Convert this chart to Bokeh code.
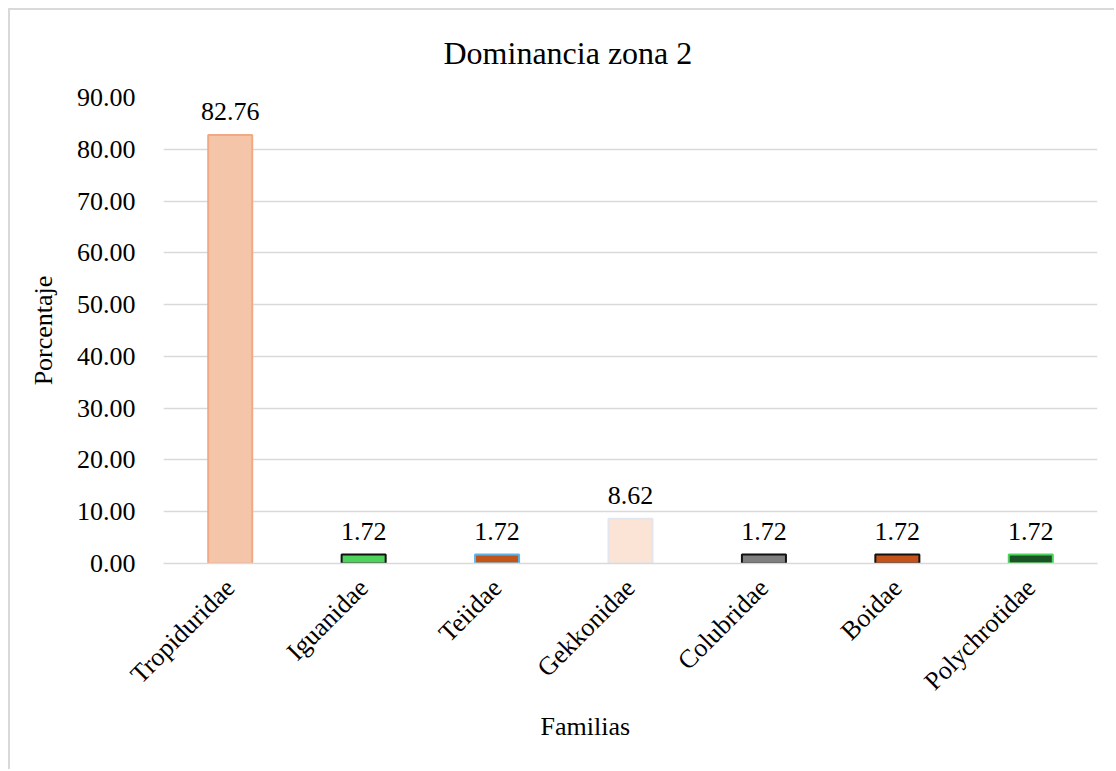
import math
from bokeh.plotting import figure
from bokeh.models import ColumnDataSource, FactorRange, Range1d, Title, SingleIntervalTicker, NumeralTickFormatter
from bokeh.embed import file_html
from bokeh.resources import INLINE

families = ["Tropiduridae", "Iguanidae", "Teiidae", "Gekkonidae", "Colubridae", "Boidae", "Polychrotidae"]
percent = [82.76, 1.72, 1.72, 8.62, 1.72, 1.72, 1.72]
fills = ["#F5C5AA", "#4CD35C", "#C2541A", "#FBE3D6", "#7F7F7F", "#C4531A", "#1A5226"]
edges = ["#F0A983", "#111111", "#5BB5E8", "#E3E6EC", "#111111", "#111111", "#4CD35C"]
labels_txt = [f"{v:.2f}" for v in percent]

FONT = "Liberation Serif"
W, H = 1106, 761

src = ColumnDataSource(dict(fam=families, val=percent, fill=fills, edge=edges, lab=labels_txt))

p = figure(
    x_range=FactorRange(*families, range_padding=0),
    y_range=Range1d(0, 90),
    width=W, height=H,
    output_backend="svg", toolbar_location=None,
    min_border_left=153, min_border_right=19, min_border_top=87, min_border_bottom=208,
)
p.styles = {"margin-left": "8px", "margin-top": "8px",
            "border-left": "2px solid #D9D9D9", "border-top": "2px solid #D9D9D9"}

p.vbar(x="fam", top="val", width=0.33, source=src, fill_color="fill", line_color="edge", line_width=2)
p.text(x="fam", y="val", text="lab", source=src, text_align="center", text_baseline="alphabetic",
       y_offset=-23, text_font_size="26px", text_color="#000000",
       text_font={"value": FONT})

p.outline_line_color = None
p.background_fill_color = "white"
p.border_fill_color = "white"

p.xgrid.grid_line_color = None
p.ygrid.grid_line_color = "#D9D9D9"
p.ygrid.grid_line_width = 1.5

p.yaxis.ticker = SingleIntervalTicker(interval=10)
p.yaxis.formatter = NumeralTickFormatter(format="0.00")
p.yaxis.axis_line_color = None
p.yaxis.major_tick_line_color = None
p.yaxis.minor_tick_line_color = None
p.yaxis.major_label_standoff = 22
p.yaxis.major_label_text_font = FONT
p.yaxis.major_label_text_font_size = "26px"
p.yaxis.major_label_text_color = "#000000"
p.yaxis.axis_label = "Porcentaje"
p.yaxis.axis_label_text_font = FONT
p.yaxis.axis_label_text_font_size = "26px"
p.yaxis.axis_label_text_font_style = "normal"
p.yaxis.axis_label_text_color = "#000000"
p.yaxis.axis_label_standoff = 16

p.xaxis.axis_line_color = "#D9D9D9"
p.xaxis.axis_line_width = 1.5
p.xaxis.major_tick_line_color = None
p.xaxis.minor_tick_line_color = None
p.xaxis.major_label_orientation = math.pi / 4
p.xaxis.major_label_standoff = 14
p.xaxis.major_label_text_font = FONT
p.xaxis.major_label_text_font_size = "26px"
p.xaxis.major_label_text_color = "#000000"

p.add_layout(Title(text="Dominancia zona 2", align="left", offset=280, standoff=49,
                   vertical_align="top",
                   text_font=FONT, text_font_size="32px", text_font_style="normal",
                   text_color="#000000"), "above")
p.add_layout(Title(text="Familias", align="left", offset=377, standoff=0,
                   text_font=FONT, text_font_size="26px", text_font_style="normal",
                   text_color="#000000"), "below")

open("out.html", "w").write(file_html(p, INLINE))
